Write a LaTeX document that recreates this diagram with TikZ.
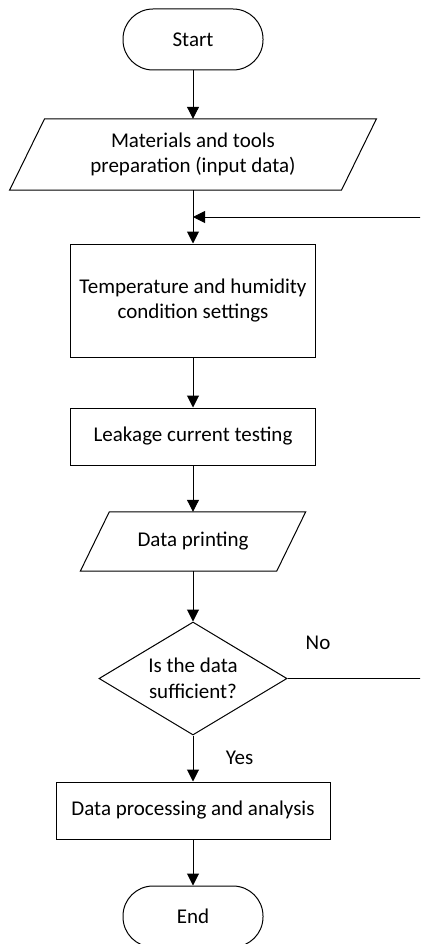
\documentclass[tikz,border=0pt]{standalone}
\usepackage{fontspec}
\setmainfont{Carlito}
\usetikzlibrary{arrows.meta,shapes.geometric}
\begin{document}
\begin{tikzpicture}[x=1pt,y=-1pt,
  every node/.style={font=\fontsize{21}{25.5}\selectfont, align=center, inner sep=0pt},
  term/.style={draw, rounded corners=30pt, minimum width=140pt, minimum height=61pt},
  proc/.style={draw, rectangle},
  iobody/.style={rectangle},
  decide/.style={draw, diamond, aspect=1.66, minimum width=188pt, minimum height=113pt},
  edge line/.style={line width=1pt},
  flow/.style={edge line, -{Triangle[length=12pt,width=12pt]}}
]
\useasboundingbox (0,0) rectangle (420,944);
\clip (0,0) rectangle (420,944);

% nodes
\node[term, edge line] (start) at (193,39.5) {Start};
\node[iobody, minimum width=331.5pt, minimum height=71pt] (inp) at (193,154.5)
  {Materials and tools\\preparation (input data)};
\draw[edge line] ([xshift=-17.5pt]inp.south west) -- ([xshift=-17.5pt]inp.south east)
  -- ([xshift=17.5pt]inp.north east) -- ([xshift=17.5pt]inp.north west) -- cycle;
\node[proc, edge line, minimum width=245pt, minimum height=113pt] (temp) at (193,300.5)
  {Temperature and humidity\\condition settings};
\node[proc, edge line, minimum width=245pt, minimum height=57pt] (leak) at (193,436.5)
  {Leakage current testing};
\node[iobody, minimum width=196pt, minimum height=59pt] (prn) at (193,541.5) {Data printing};
\draw[edge line] ([xshift=-14.5pt]prn.south west) -- ([xshift=-14.5pt]prn.south east)
  -- ([xshift=14.5pt]prn.north east) -- ([xshift=14.5pt]prn.north west) -- cycle;
\node[decide, edge line] (dec) at (193,678.5) {Is the data\\sufficient?};
\node[proc, edge line, minimum width=274pt, minimum height=57pt] (anl) at (193,810.5)
  {Data processing and analysis};
\node[term, edge line] (stop) at (193,916.5) {End};

% branch labels
\node (no) at (318,643) {No};
\node (yes) at (239.5,758) {Yes};

% connectors
\coordinate (join) at (193,217);
\coordinate (back) at (450,678.5);
\draw[flow] (start.south) -- (inp.north);
\draw[edge line] (inp.south) -- (join);
\draw[flow] (join) -- (temp.north);
\draw[flow] (temp.south) -- (leak.north);
\draw[flow] (leak.south) -- (prn.north);
\draw[flow] (prn.south) -- (dec.north);
\draw[flow] (dec.south) -- (anl.north);
\draw[flow] (anl.south) -- (stop.north);
\draw[flow] (dec.east) -- (back) |- (join);
\end{tikzpicture}
\end{document}
